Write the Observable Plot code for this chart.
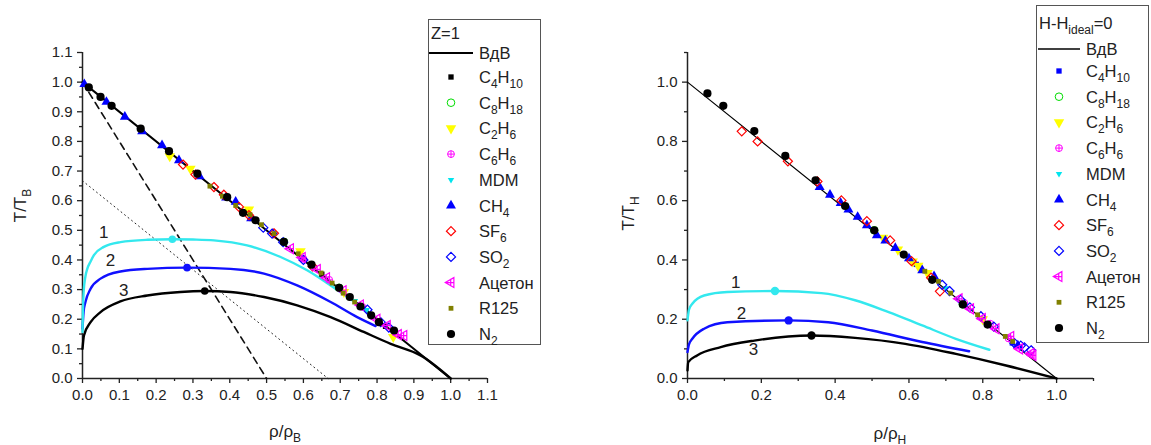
<!DOCTYPE html>
<html><head><meta charset="utf-8">
<script src="https://cdn.jsdelivr.net/npm/d3@7"></script>
<script src="https://cdn.jsdelivr.net/npm/@observablehq/plot@0.6"></script>
<style>
body{margin:0;width:1151px;height:445px;position:relative;overflow:hidden;background:#fff;font-family:"Liberation Sans",Arial,sans-serif;color:#222}
#left,#right{position:absolute;top:0}
#left{left:0}#right{left:575px}
.ttl{position:absolute;font-size:17px;white-space:nowrap;line-height:1}
.legend{position:absolute;border:1px solid #555;background:#fff;box-sizing:border-box}
.row{position:absolute;white-space:nowrap;font-size:16.5px;line-height:18px;height:18px}
sub{font-size:12px;vertical-align:-5px;line-height:0}
.sym{position:absolute}
</style></head><body>
<div id="left"></div><div id="right"></div>
<script>
// ---------- tick values ----------
const xMajorL = [0.0,0.1,0.2,0.3,0.4,0.5,0.6,0.7,0.8,0.9,1.0,1.1];
const xMinorL = [0.05,0.15,0.25,0.35,0.45,0.55,0.65,0.75,0.85,0.95,1.05];
const yMajorL = [0.0,0.1,0.2,0.3,0.4,0.5,0.6,0.7,0.8,0.9,1.0,1.1];
const yMinorL = [0.05,0.15,0.25,0.35,0.45,0.55,0.65,0.75,0.85,0.95,1.05];
const xMajorR = [0.0,0.2,0.4,0.6,0.8,1.0];
const xMinorR = [0.1,0.3,0.5,0.7,0.9,1.1];
const yMajorR = [0.0,0.2,0.4,0.6,0.8,1.0];
const yMinorR = [0.1,0.3,0.5,0.7,0.9,1.1];

// ---------- lines, left ----------
const vdwL = [[0,1],[1,0]];
const dashedL = [[0,1],[0.5,0]];
const dottedL = [[0,0.667],[0.667,0]];
const curve1L = [[0,0.157],[0.001,0.22],[0.003,0.29],[0.008,0.345],[0.013,0.37],[0.022,0.395],[0.031,0.416],[0.058,0.444],[0.103,0.46],[0.176,0.468],[0.244,0.47],[0.3,0.469],[0.357,0.466],[0.447,0.449],[0.538,0.41],[0.61,0.365],[0.674,0.314],[0.72,0.275],[0.775,0.228]];
const curve2L = [[0,0.168],[0.003,0.225],[0.008,0.258],[0.022,0.303],[0.049,0.337],[0.103,0.361],[0.176,0.37],[0.284,0.374],[0.402,0.37],[0.493,0.354],[0.583,0.314],[0.674,0.258],[0.746,0.207],[0.796,0.177]];
const curve3L = [[0,0.1],[0.004,0.145],[0.022,0.19],[0.049,0.224],[0.103,0.26],[0.176,0.28],[0.266,0.292],[0.332,0.295],[0.402,0.292],[0.493,0.275],[0.583,0.247],[0.674,0.207],[0.764,0.157],[0.837,0.117],[0.918,0.078],[1.0,0.0]];
const maxPtsL = [[0.244,0.47],[0.284,0.374],[0.332,0.295]];
const curveLabelsL = [[0.058,0.494,"1"],[0.076,0.399,"2"],[0.112,0.297,"3"]];

// ---------- lines, right ----------
const vdwR = [[0,1],[1,0]];
const curve1R = [[0,0.196],[0.004,0.232],[0.013,0.252],[0.045,0.28],[0.108,0.292],[0.237,0.295],[0.363,0.288],[0.454,0.264],[0.545,0.224],[0.636,0.179],[0.727,0.134],[0.818,0.097]];
const curve2R = [[0,0.089],[0.004,0.115],[0.013,0.134],[0.045,0.168],[0.108,0.19],[0.274,0.196],[0.381,0.19],[0.5,0.162],[0.636,0.123],[0.763,0.092]];
const curve3R = [[0,0.027],[0.002,0.055],[0.026,0.078],[0.09,0.106],[0.181,0.128],[0.336,0.145],[0.454,0.137],[0.59,0.117],[0.727,0.083],[0.863,0.044],[1.0,0.0]];
const maxPtsR = [[0.237,0.295],[0.274,0.196],[0.336,0.145]];
const curveLabelsR = [[0.131,0.325,"1"],[0.146,0.218,"2"],[0.179,0.097,"3"]];

// ---------- scatter, left (rho/rhoB, T/TB) ----------
const C4H10_L = [[0.46,0.54],[0.65,0.352],[0.823,0.176],[0.848,0.15]];
const C8H18_L = [[0.547,0.461],[0.697,0.306]];
const C2H6_L = [[0.237,0.75],[0.293,0.708],[0.452,0.57],[0.592,0.429],[0.71,0.292],[0.844,0.14]];
const C6H6_L = [[0.6,0.404],[0.67,0.333],[0.76,0.242]];
const MDM_L = [[0.74,0.262],[0.772,0.232]];
const CH4_L = [[0.005,0.993],[0.065,0.933],[0.115,0.883],[0.162,0.834],[0.216,0.787],[0.262,0.736],[0.318,0.682],[0.39,0.61],[0.416,0.596],[0.458,0.54]];
const SF6_L = [[0.273,0.722],[0.307,0.688],[0.357,0.646],[0.384,0.62],[0.425,0.579],[0.452,0.551],[0.52,0.49],[0.625,0.378]];
const SO2_L = [[0.491,0.509],[0.515,0.489],[0.545,0.46],[0.6,0.4],[0.774,0.232],[0.81,0.19],[0.832,0.172]];
const Aceton_L = [[0.565,0.438],[0.597,0.408],[0.638,0.368],[0.663,0.34],[0.708,0.296],[0.755,0.248],[0.8,0.2],[0.828,0.179],[0.858,0.148],[0.873,0.145]];
const R125_L = [[0.346,0.649],[0.38,0.615],[0.416,0.584],[0.455,0.553],[0.486,0.519],[0.52,0.489],[0.586,0.421],[0.648,0.356],[0.678,0.322],[0.708,0.288],[0.739,0.258]];
const N2_L = [[0.017,0.982],[0.049,0.95],[0.079,0.92],[0.158,0.843],[0.235,0.767],[0.312,0.691],[0.393,0.612],[0.436,0.559],[0.47,0.534],[0.547,0.461],[0.622,0.384],[0.697,0.306],[0.726,0.275],[0.755,0.243],[0.784,0.213],[0.805,0.19],[0.846,0.162]];

// ---------- scatter, right (rho/rhoH, T/TH) ----------
const C4H10_R = [[0.62,0.385],[0.88,0.12]];
const C8H18_R = [[0.506,0.5],[0.746,0.25]];
const C2H6_R = [[0.53,0.475],[0.57,0.435],[0.61,0.395],[0.625,0.38],[0.65,0.356],[0.8,0.2]];
const C6H6_R = [[0.75,0.255],[0.82,0.185],[0.87,0.135]];
const MDM_R = [[0.7,0.305]];
const CH4_R = [[0.358,0.646],[0.386,0.62],[0.415,0.592],[0.436,0.57],[0.461,0.545],[0.486,0.517],[0.513,0.483],[0.536,0.465],[0.563,0.44],[0.6,0.405],[0.636,0.365],[0.668,0.345],[0.895,0.111]];
const SF6_R = [[0.147,0.834],[0.19,0.8],[0.272,0.733],[0.352,0.665],[0.417,0.601],[0.486,0.531],[0.549,0.466],[0.607,0.396],[0.66,0.34],[0.684,0.294]];
const SO2_R = [[0.69,0.316],[0.71,0.295],[0.74,0.265],[0.765,0.24],[0.795,0.21],[0.83,0.175],[0.886,0.119],[0.903,0.111],[0.913,0.105],[0.931,0.095]];
const Aceton_R = [[0.736,0.269],[0.767,0.235],[0.799,0.202],[0.836,0.168],[0.876,0.142],[0.9,0.1],[0.931,0.084],[0.936,0.078]];
const R125_R = [[0.643,0.362],[0.68,0.328],[0.713,0.288],[0.786,0.215],[0.861,0.142],[0.881,0.125]];
const N2_R = [[0.054,0.962],[0.097,0.92],[0.181,0.835],[0.265,0.751],[0.347,0.669],[0.427,0.582],[0.506,0.5],[0.586,0.418],[0.663,0.333],[0.746,0.25],[0.813,0.182]];

// ---------- legend ----------
const legendNames = ["C<sub>4</sub>H<sub>10</sub>","C<sub>8</sub>H<sub>18</sub>","C<sub>2</sub>H<sub>6</sub>","C<sub>6</sub>H<sub>6</sub>","MDM","CH<sub>4</sub>","SF<sub>6</sub>","SO<sub>2</sub>","Ацетон","R125","N<sub>2</sub>"];

// ---------- symbols ----------
const s3 = Math.sqrt(3);
const triDown = {draw(c, size){const y=-Math.sqrt(size/(s3*3)); c.moveTo(0,-2*y); c.lineTo(-s3*y,y); c.lineTo(s3*y,y); c.closePath();}};
const triLeftX = {draw(c, size){const y=-Math.sqrt(size/(s3*3)); c.moveTo(2*y,0); c.lineTo(-y,s3*y); c.lineTo(-y,-s3*y); c.closePath(); c.moveTo(2*y,0); c.lineTo(-y,0); c.moveTo(0.1*y,s3*y*0.75); c.lineTo(0.1*y,-s3*y*0.75);}};
const circPlus = {draw(c, size){const r=Math.sqrt(size/Math.PI); c.moveTo(r,0); c.arc(0,0,r,0,2*Math.PI); c.moveTo(-r,0); c.lineTo(r,0); c.moveTo(0,-r); c.lineTo(0,r);}};
const symMap = {circle:d3.symbolCircle, square:d3.symbolSquare, triangle:d3.symbolTriangle, diamond2:d3.symbolDiamond2};
function symObj(s){return typeof s === "string" ? symMap[s] : s;}

function styleList(c4color){
  return [
    {symbol:"square", fill:c4color, stroke:"none", r:3.0},
    {symbol:"circle", fill:"none", stroke:"#00dd00", r:3.8, sw:1},
    {symbol:triDown, fill:"#ffff00", stroke:"none", r:3.9},
    {symbol:circPlus, fill:"none", stroke:"#ff00ff", r:3.4, sw:1},
    {symbol:triDown, fill:"#00e5ee", stroke:"none", r:2.4},
    {symbol:"triangle", fill:"#0000ff", stroke:"none", r:3.7},
    {symbol:"diamond2", fill:"none", stroke:"#ff0000", r:4.1, sw:1.2},
    {symbol:"diamond2", fill:"none", stroke:"#0000ff", r:4.1, sw:1.2},
    {symbol:triLeftX, fill:"none", stroke:"#ff00ff", r:3.7, sw:1.2},
    {symbol:"square", fill:"#808000", stroke:"none", r:2.7},
    {symbol:"circle", fill:"#000000", stroke:"none", r:4.1}
  ];
}
const seriesL = [C4H10_L,C8H18_L,C2H6_L,C6H6_L,MDM_L,CH4_L,SF6_L,SO2_L,Aceton_L,R125_L,N2_L];
const seriesR = [C4H10_R,C8H18_R,C2H6_R,C6H6_R,MDM_R,CH4_R,SF6_R,SO2_R,Aceton_R,R125_R,N2_R];
const stylesL = styleList("#000000");
const stylesR = styleList("#0000ff");

const X = d => d[0], Y = d => d[1];
const font = "Liberation Sans, Arial, sans-serif";

function axes(xMaj, xMin, yMaj, yMin){
  const f = d3.format(".1f");
  return [
    Plot.axisX({ticks:xMaj, tickSize:5, tickPadding:6, tickFormat:f, label:null, fontSize:15, strokeWidth:1.3}),
    Plot.axisX({ticks:xMin, tickSize:3, tickFormat:()=>"", label:null, strokeWidth:1.3}),
    Plot.axisY({ticks:yMaj, tickSize:5, tickPadding:5, tickFormat:f, label:null, fontSize:15, strokeWidth:1.3}),
    Plot.axisY({ticks:yMin, tickSize:3, tickFormat:()=>"", label:null, strokeWidth:1.3}),
    Plot.ruleX([0], {stroke:"#222", strokeWidth:1.5}),
    Plot.ruleY([0], {stroke:"#222", strokeWidth:1.5})
  ];
}
function dots(series, styles){
  return series.map((data, i) => {
    const s = styles[i];
    return Plot.dot(data, {x:X, y:Y, symbol:symObj(s.symbol), r:s.r, fill:s.fill, stroke:s.stroke, strokeWidth:s.sw || 1});
  });
}

const left = Plot.plot({
  width:575, height:445, marginLeft:82, marginRight:88, marginTop:52, marginBottom:67,
  x:{domain:[0,1.1]}, y:{domain:[0,1.1]},
  style:{fontFamily:font, fontSize:"15px", color:"#222", background:"transparent", overflow:"visible"},
  marks:[
    ...axes(xMajorL, xMinorL, yMajorL, yMinorL),
    Plot.line(dottedL, {x:X, y:Y, stroke:"#222", strokeWidth:1, strokeDasharray:"1,3.5"}),
    Plot.line(dashedL, {x:X, y:Y, stroke:"#111", strokeWidth:1.6, strokeDasharray:"7,5"}),
    Plot.line(curve3L, {x:X, y:Y, stroke:"#000", strokeWidth:2.4, curve:"monotone-x"}),
    Plot.line(curve2L, {x:X, y:Y, stroke:"#1010ff", strokeWidth:2.4, curve:"monotone-x"}),
    Plot.line(curve1L, {x:X, y:Y, stroke:"#33e8ee", strokeWidth:2.4, curve:"monotone-x"}),
    Plot.dot(maxPtsL, {x:X, y:Y, r:3.8, fill:["#33e8ee","#1010ff","#000"], stroke:"none"}),
    Plot.text(curveLabelsL, {x:X, y:Y, text:d=>d[2], fontSize:17, fill:"#222"}),
    Plot.line(vdwL, {x:X, y:Y, stroke:"#000", strokeWidth:2}),
    ...dots(seriesL, stylesL)
  ]
});
document.getElementById("left").append(left);

const right = Plot.plot({
  width:576, height:445, marginLeft:112, marginRight:58, marginTop:52, marginBottom:67,
  x:{domain:[0,1.1]}, y:{domain:[0,1.1]},
  style:{fontFamily:font, fontSize:"15px", color:"#222", background:"transparent", overflow:"visible"},
  marks:[
    ...axes(xMajorR, xMinorR, yMajorR, yMinorR),
    Plot.line(curve3R, {x:X, y:Y, stroke:"#000", strokeWidth:2.4, curve:"monotone-x"}),
    Plot.line(curve2R, {x:X, y:Y, stroke:"#1010ff", strokeWidth:2.4, curve:"monotone-x"}),
    Plot.line(curve1R, {x:X, y:Y, stroke:"#33e8ee", strokeWidth:2.4, curve:"monotone-x"}),
    Plot.dot(maxPtsR, {x:X, y:Y, r:4.2, fill:["#33e8ee","#1010ff","#000"], stroke:"none"}),
    Plot.text(curveLabelsR, {x:X, y:Y, text:d=>d[2], fontSize:17, fill:"#222"}),
    Plot.line(vdwR, {x:X, y:Y, stroke:"#000", strokeWidth:1.2}),
    ...dots(seriesR, stylesR)
  ]
});
document.getElementById("right").append(right);

// ---------- axis titles (HTML for subscripts) ----------
function title(html, x, y, rotate){
  const d = document.createElement("div");
  d.className = "ttl"; d.innerHTML = html;
  document.body.append(d);
  const w = d.offsetWidth, h = d.offsetHeight;
  d.style.left = (x - w/2) + "px"; d.style.top = (y - h/2) + "px";
  if (rotate) d.style.transform = "rotate(-90deg)";
}
title("ρ/ρ<sub>B</sub>", 285, 431, false);
title("ρ/ρ<sub>H</sub>", 890, 433, false);
title("T/T<sub>B</sub>", 21, 205, true);
title("T/T<sub>H</sub>", 628, 213, true);

// ---------- legends ----------
function legend(box, titleHtml, titleY, lineY, lineX0, lineX1, lineW, symX, textX, y0, styles){
  const L = document.createElement("div");
  L.className = "legend";
  Object.assign(L.style, {left:box[0]+"px", top:box[1]+"px", width:box[2]+"px", height:box[3]+"px"});
  document.body.append(L);
  const addRow = (html, x, cy) => {
    const r = document.createElement("div");
    r.className = "row"; r.innerHTML = html;
    r.style.left = (x - box[0]) + "px"; r.style.top = (cy - box[1] - 10) + "px";
    L.append(r);
  };
  addRow(titleHtml, box[0] + 2, titleY);
  const svg = d3.select(L).append("svg").attr("class","sym")
    .style("left","-1px").style("top","-1px").attr("width", box[2]).attr("height", box[3]);
  const ox = box[0], oy = box[1];
  svg.append("line").attr("x1", lineX0-ox).attr("x2", lineX1-ox).attr("y1", lineY-oy).attr("y2", lineY-oy)
    .attr("stroke","#000").attr("stroke-width", lineW);
  addRow("ВдВ", textX, lineY);
  legendNames.forEach((nm, i) => {
    const cy = y0 + i*25.7;
    const s = styles[i];
    const p = d3.path(); symObj(s.symbol).draw(p, s.r*s.r*Math.PI);
    svg.append("path").attr("d", p.toString()).attr("transform", `translate(${symX-ox},${cy-oy})`)
      .attr("fill", s.fill).attr("stroke", s.stroke).attr("stroke-width", s.sw || 1);
    addRow(nm, textX, cy);
  });
}
legend([428,19,113,326], "Z=1", 33, 53, 429, 473, 2, 451, 478, 77, stylesL);
legend([1036,5,113,338], "H-H<sub>ideal</sub>=0", 23, 49, 1038, 1080, 1.5, 1059, 1085, 71, stylesR);
</script></body></html>
